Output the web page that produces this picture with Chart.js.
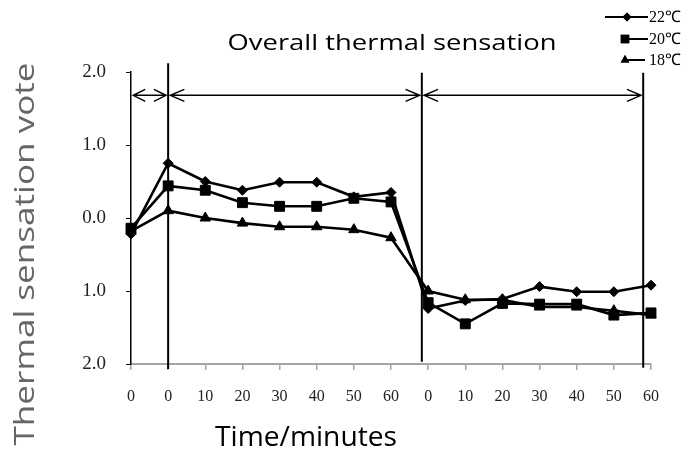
<!DOCTYPE html>
<html>
<head>
<meta charset="utf-8">
<script src="https://cdn.jsdelivr.net/npm/chart.js@4.4.0/dist/chart.umd.min.js"></script>
<style>
  html, body { margin: 0; padding: 0; background: #fff; }
  #wrap { width: 699px; height: 469px; position: relative; }
</style>
</head>
<body>
<div id="wrap"><canvas id="c" width="699" height="469"></canvas></div>
<script>
// ---- data ----
const categories = ['0', '0', '10', '20', '30', '40', '50', '60', '0', '10', '20', '30', '40', '50', '60'];
const seriesLabels = ['22℃', '20℃', '18℃'];
const vote22 = [-0.22, 0.75, 0.50, 0.38, 0.49, 0.49, 0.29, 0.35, -1.24, -1.13, -1.11, -0.94, -1.01, -1.01, -0.92];
const vote20 = [-0.14, 0.44, 0.38, 0.21, 0.16, 0.16, 0.27, 0.22, -1.16, -1.45, -1.17, -1.18, -1.18, -1.33, -1.30];
const vote18 = [-0.18, 0.10, 0.00, -0.07, -0.12, -0.12, -0.16, -0.27, -1.00, -1.12, -1.12, -1.22, -1.22, -1.27, -1.33];
const yTickLabels = ['2.0', '1.0', '0.0', '1.0', '2.0'];
const chartTitle = 'Overall thermal sensation';
const xTitle = 'Time/minutes';
const yTitle = 'Thermal sensation vote';
// phase dividers (category positions) and arrow spans
const dividers = [1, 7.83, 13.79];
const arrowSpans = [[0.06, 0.94], [1.06, 7.77], [7.89, 13.73]];
const arrowLevel = 1.68;

const SERIF = '"Liberation Serif", "Times New Roman", serif';
const SANS = '"Open Sans", "Noto Sans", sans-serif';

function stretchedText(ctx, text, cx, cy, font, targetW, color, rotate) {
  ctx.save();
  ctx.font = font;
  ctx.fillStyle = color;
  ctx.textAlign = 'center';
  ctx.textBaseline = 'alphabetic';
  const w = ctx.measureText(text).width;
  ctx.translate(cx, cy);
  if (rotate) ctx.rotate(-Math.PI / 2);
  ctx.scale(targetW / w, 1);
  ctx.fillText(text, 0, 0);
  ctx.restore();
}

const decor = {
  id: 'decor',
  afterDatasetsDraw(chart) {
    const ctx = chart.ctx;
    const xs = chart.scales.x, ys = chart.scales.y;
    ctx.save();
    // vertical phase dividers
    ctx.strokeStyle = '#000';
    ctx.lineWidth = 2;
    const tops = [2.12, 1.99, 1.99];
    const bots = [-2.07, -1.97, -2.05];
    dividers.forEach((d, i) => {
      const x = xs.getPixelForValue(d);
      ctx.beginPath();
      ctx.moveTo(x, ys.getPixelForValue(tops[i]));
      ctx.lineTo(x, ys.getPixelForValue(bots[i]));
      ctx.stroke();
    });
    // double arrows
    ctx.lineWidth = 1.5;
    const ay = ys.getPixelForValue(arrowLevel);
    arrowSpans.forEach((s, i) => {
      const x1 = xs.getPixelForValue(s[0]);
      const x2 = xs.getPixelForValue(s[1]);
      const hl = i === 0 ? 12 : 14, hh = 6;
      ctx.beginPath();
      ctx.moveTo(x1, ay); ctx.lineTo(x2, ay);
      ctx.moveTo(x1 + hl, ay - hh); ctx.lineTo(x1, ay); ctx.lineTo(x1 + hl, ay + hh);
      ctx.moveTo(x2 - hl, ay - hh); ctx.lineTo(x2, ay); ctx.lineTo(x2 - hl, ay + hh);
      ctx.stroke();
    });
    ctx.restore();
  },
  afterDraw(chart) {
    const ctx = chart.ctx;
    // titles
    stretchedText(ctx, chartTitle, 392, 50, '22px ' + SANS, 329, '#000', false);
    stretchedText(ctx, xTitle, 306, 446, '28px ' + SANS, 182, '#000', false);
    stretchedText(ctx, yTitle, 34, 254, '28px ' + SANS, 383, '#666', true);
    // legend
    const rows = [17, 39, 60];
    const lineSpans = [[605, 648], [626, 648], [626, 645]];
    const markX = [627, 625, 625];
    const radii = [4.5, 6, 5];
    chart.data.datasets.forEach((ds, i) => {
      const y = rows[i];
      ctx.save();
      ctx.strokeStyle = '#000';
      ctx.lineWidth = 2;
      ctx.beginPath();
      ctx.moveTo(lineSpans[i][0], y);
      ctx.lineTo(lineSpans[i][1], y);
      ctx.stroke();
      ctx.fillStyle = '#000';
      Chart.helpers.drawPoint(ctx, { pointStyle: ds.pointStyle, radius: radii[i], rotation: 0, borderWidth: 0 }, markX[i], y);
      ctx.fill();
      ctx.font = '16px ' + SERIF;
      ctx.textAlign = 'left';
      ctx.textBaseline = 'middle';
      ctx.fillText(ds.label, 649, y + 1);
      ctx.restore();
    });
  }
};

const common = {
  borderColor: '#000',
  backgroundColor: '#000',
  pointBackgroundColor: '#000',
  pointBorderColor: '#000',
  borderWidth: 2.6,
  pointBorderWidth: 1,
  tension: 0,
  clip: false
};

new Chart(document.getElementById('c'), {
  type: 'line',
  data: {
    labels: categories,
    datasets: [
      Object.assign({ label: seriesLabels[0], data: vote22, pointStyle: 'rectRot', pointRadius: 5 }, common),
      Object.assign({ label: seriesLabels[1], data: vote20, pointStyle: 'rect', pointRadius: 7 }, common),
      Object.assign({ label: seriesLabels[2], data: vote18, pointStyle: 'triangle', pointRadius: 6 }, common)
    ]
  },
  options: {
    responsive: false,
    animation: false,
    devicePixelRatio: 1,
    layout: { padding: { top: 72, right: 48, left: 0, bottom: 0 } },
    plugins: { legend: { display: false }, title: { display: false }, tooltip: { enabled: false } },
    scales: {
      x: {
        type: 'category',
        offset: false,
        afterFit(s) { s.height = 105; },
        grid: { drawOnChartArea: false, drawTicks: true, tickLength: 6, color: '#a6a6a6', lineWidth: 1.5 },
        border: { display: true, color: '#a6a6a6', width: 2 },
        ticks: { color: '#222', font: { family: SERIF, size: 16 }, padding: 17, maxRotation: 0, autoSkip: false }
      },
      y: {
        min: -2, max: 2,
        afterFit(s) { s.width = 131; },
        grid: { drawOnChartArea: false, drawTicks: true, tickLength: 5, color: '#000', lineWidth: 1 },
        border: { display: true, color: '#000', width: 1.5 },
        ticks: {
          stepSize: 1, color: '#222', font: { family: SERIF, size: 19 }, padding: 20,
          callback: (v, i) => yTickLabels[i]
        }
      }
    }
  },
  plugins: [decor]
});
</script>
</body>
</html>
